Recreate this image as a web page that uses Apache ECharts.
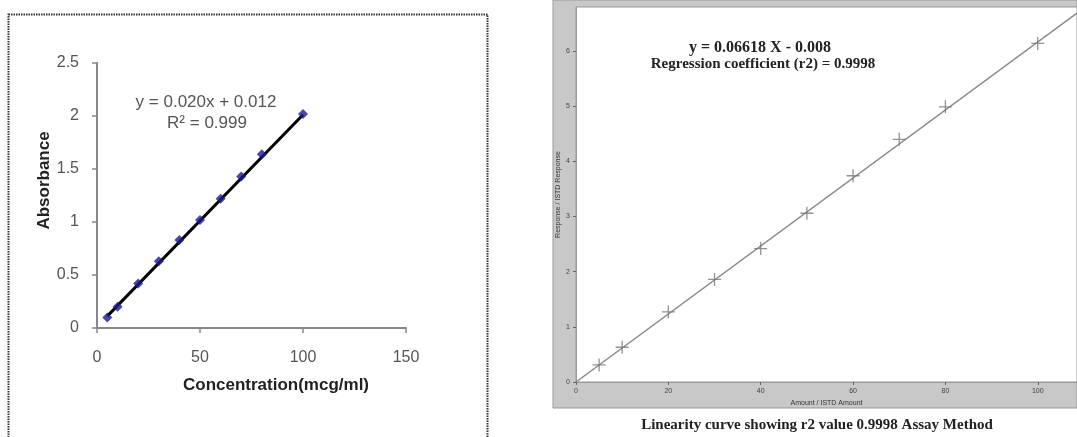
<!DOCTYPE html>
<html>
<head>
<meta charset="utf-8">
<script src="https://cdn.jsdelivr.net/npm/echarts@6/dist/echarts.min.js"></script>
<style>
html,body{margin:0;padding:0;background:#fff;}
#chart{width:1077px;height:437px;}
</style>
</head>
<body>
<div id="chart"></div>
<script>
// Left chart data
const leftX = [5, 10, 20, 30, 40, 50, 60, 70, 80, 100];
const leftY = [0.10, 0.20, 0.42, 0.63, 0.83, 1.02, 1.22, 1.43, 1.64, 2.02];
const leftTrendX = [5, 100];
const leftTrendY = [0.112, 2.012];
const leftEquation = ['y = 0.020x + 0.012', 'R² = 0.999'];

// Right chart data
const rightX = [5, 10, 20, 30, 40, 50, 60, 70, 80, 100];
const rightY = [0.31, 0.63, 1.27, 1.86, 2.42, 3.06, 3.74, 4.40, 4.99, 6.14];
const rightLineX = [0, 108.5];
const rightLineY = [0, 6.69];
const rightEquation = ['y = 0.06618 X - 0.008', 'Regression coefficient (r2) = 0.9998'];
const caption = 'Linearity curve showing r2 value 0.9998 Assay Method';

const pair = (xs, ys) => xs.map((x, i) => [x, ys[i]]);
const sans = 'Liberation Sans, Arial, sans-serif';
const serif = 'Liberation Serif, Times New Roman, serif';
const plus = 'path://M0,4.5h10v1h-10z M4.5,0h1v10h-1z';

const chart = echarts.init(document.getElementById('chart'), null, {renderer: 'canvas'});
chart.setOption({
  animation: false,
  backgroundColor: '#fff',
  graphic: [
    {type: 'rect', z: -10, shape: {x: 8.5, y: 14.5, width: 479, height: 440},
     style: {fill: '#fff', stroke: '#333', lineWidth: 2, lineDash: [1.5, 1]}},
    {type: 'rect', z: -10, shape: {x: 553, y: 0, width: 524, height: 408},
     style: {fill: '#c8c8c8', stroke: '#999', lineWidth: 1}},
    {type: 'text', z: 10, x: 206, y: 102,
     style: {text: leftEquation[0], font: '17px ' + sans, fill: '#555', align: 'center', verticalAlign: 'middle'}},
    {type: 'text', z: 10, x: 207, y: 123,
     style: {text: leftEquation[1], font: '17px ' + sans, fill: '#555', align: 'center', verticalAlign: 'middle'}},
    {type: 'text', z: 10, x: 760, y: 48,
     style: {text: rightEquation[0], font: 'bold 16px ' + serif, fill: '#222', align: 'center', verticalAlign: 'middle'}},
    {type: 'text', z: 10, x: 763, y: 64,
     style: {text: rightEquation[1], font: 'bold 15px ' + serif, fill: '#222', align: 'center', verticalAlign: 'middle'}},
    {type: 'text', z: 10, x: 817, y: 425,
     style: {text: caption, font: 'bold 15px ' + serif, fill: '#222', align: 'center', verticalAlign: 'middle'}}
  ],
  grid: [
    {left: 97, top: 63, width: 309, height: 265, show: false},
    {left: 576, top: 7, right: 0, bottom: 55, show: true, backgroundColor: '#fff', borderColor: '#999', borderWidth: 1}
  ],
  xAxis: [
    {gridIndex: 0, type: 'value', min: 0, max: 150, interval: 50,
     name: 'Concentration(mcg/ml)', nameLocation: 'middle', nameGap: 49,
     nameTextStyle: {fontFamily: sans, fontWeight: 'bold', fontSize: 17, color: '#222', padding: [0, 0, 0, 49]},
     axisLine: {lineStyle: {color: '#888', width: 2}},
     axisTick: {show: true, inside: false, length: 5, lineStyle: {color: '#888', width: 1.5}},
     axisLabel: {fontFamily: sans, fontSize: 16, color: '#555', margin: 22},
     splitLine: {show: false}},
    {gridIndex: 1, type: 'value', min: 0, max: 108.5, interval: 20,
     name: 'Amount / ISTD Amount', nameLocation: 'middle', nameGap: 17,
     nameTextStyle: {fontFamily: sans, fontSize: 7, color: '#333'},
     axisLine: {lineStyle: {color: '#999', width: 1}},
     axisTick: {show: true, inside: false, length: 3, lineStyle: {color: '#666'}},
     axisLabel: {fontFamily: sans, fontSize: 7, color: '#444', margin: 6, showMaxLabel: false},
     splitLine: {show: false}}
  ],
  yAxis: [
    {gridIndex: 0, type: 'value', min: 0, max: 2.5, interval: 0.5,
     name: 'Absorbance', nameLocation: 'middle', nameGap: 38,
     nameTextStyle: {fontFamily: sans, fontWeight: 'bold', fontSize: 17, color: '#222', padding: [0, 0, 0, 30]},
     axisLine: {show: true, lineStyle: {color: '#888', width: 2}},
     axisTick: {show: true, inside: false, length: 5, lineStyle: {color: '#888', width: 1.5}},
     axisLabel: {fontFamily: sans, fontSize: 16, color: '#555', margin: 18},
     splitLine: {show: false}},
    {gridIndex: 1, type: 'value', min: 0, max: 6.8, interval: 1,
     name: 'Response / ISTD Response', nameLocation: 'middle', nameGap: 14,
     nameTextStyle: {fontFamily: sans, fontSize: 7, color: '#333'},
     axisLine: {show: true, lineStyle: {color: '#999', width: 1}},
     axisTick: {show: true, inside: false, length: 3, lineStyle: {color: '#666'}},
     axisLabel: {fontFamily: sans, fontSize: 7, color: '#444', margin: 6, showMaxLabel: false},
     splitLine: {show: false}}
  ],
  series: [
    {type: 'line', xAxisIndex: 0, yAxisIndex: 0, data: pair(leftTrendX, leftTrendY),
     showSymbol: false, symbol: 'none', lineStyle: {color: '#000', width: 3}, z: 2},
    {type: 'scatter', xAxisIndex: 0, yAxisIndex: 0, data: pair(leftX, leftY),
     symbol: 'diamond', symbolSize: 10, itemStyle: {color: '#1c1c8e'}, z: 3},
    {type: 'line', xAxisIndex: 1, yAxisIndex: 1, data: pair(rightLineX, rightLineY),
     showSymbol: false, symbol: 'none', lineStyle: {color: '#888', width: 1.5}, z: 2},
    {type: 'scatter', xAxisIndex: 1, yAxisIndex: 1, data: pair(rightX, rightY),
     symbol: plus, symbolSize: 13, itemStyle: {color: '#777'}, z: 3}
  ]
});
</script>
</body>
</html>
